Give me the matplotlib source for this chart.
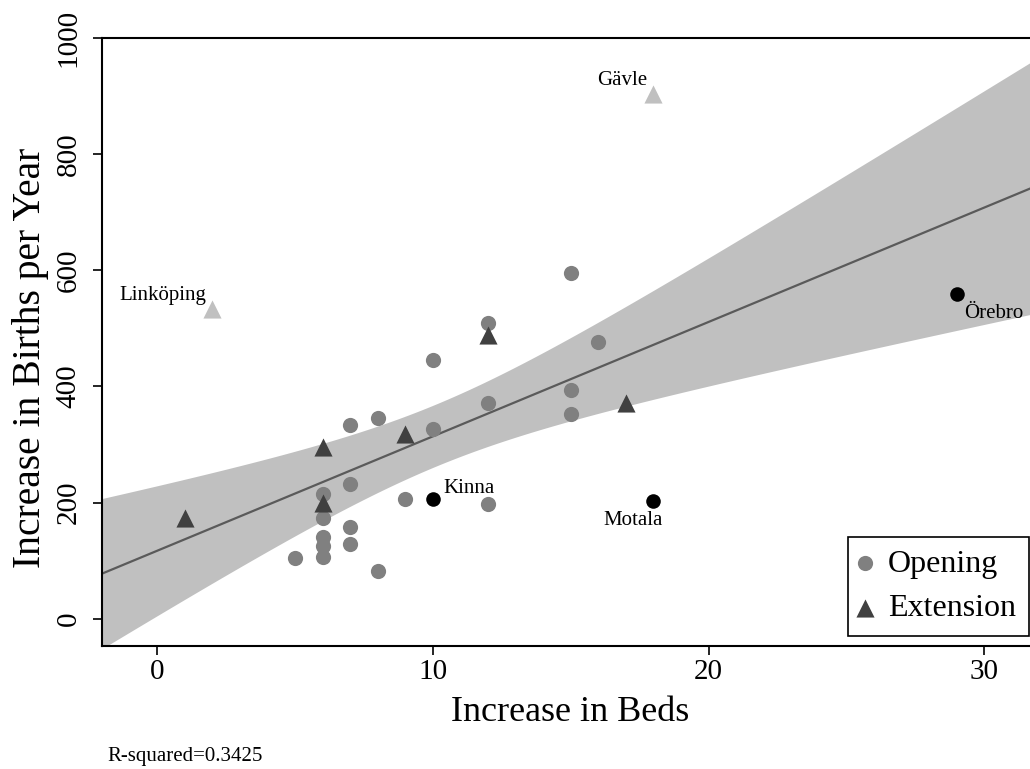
import numpy as np
import matplotlib
matplotlib.use("Agg")
import matplotlib.pyplot as plt

# ---- data ----
open_x = [12, 10, 12, 7, 8, 10, 7, 6, 9, 12, 6, 7, 6, 6, 7, 5, 6, 8, 15, 16, 15, 15]
open_y = [509, 445, 371, 333, 345, 326, 232, 214, 206, 197, 173, 158, 140, 125, 129, 104, 106, 82, 595, 476, 393, 352]
ext_x = [1, 6, 6, 9, 12, 17]
ext_y = [174, 295, 199, 318, 488, 371]
lab_names = ["Kinna", "Motala", "Örebro"]
lab_x = [10, 18, 29]
lab_y = [206, 202, 559]
far_names = ["Linköping", "Gävle"]
far_x = [2, 18]
far_y = [533, 903]
# fitted line (intercept, slope)
fit_intercept = 117.0
fit_slope = 19.7
x_ticks = [0, 10, 20, 30]
y_ticks = [0, 200, 400, 600, 800, 1000]
r2_text = "R-squared=0.3425"

plt.rcParams['font.family'] = ['Liberation Serif', 'DejaVu Serif']

fig = plt.figure(figsize=(10.30, 7.69), dpi=100)
ax = fig.add_axes([102 / 1030, 123 / 769, 937.4 / 1030, 608 / 769])
ax.set_xlim(-2, 32)
ax.set_ylim(-47, 1000)

# ---- linear fit with 95% CI ----
allx = np.array(open_x + ext_x + lab_x + far_x, float)
ally = np.array(open_y + ext_y + lab_y + far_y, float)
n = len(allx)
resid = ally - (fit_intercept + fit_slope * allx)
s = np.sqrt(np.sum(resid ** 2) / (n - 2))
xm = allx.mean()
sxx = np.sum((allx - xm) ** 2)
tval = 2.0395  # t(0.975, df=31)
xx = np.linspace(-2, 32, 300)
yy = fit_intercept + fit_slope * xx
se = s * np.sqrt(1.0 / n + (xx - xm) ** 2 / sxx)
ax.fill_between(xx, yy - tval * se, yy + tval * se, color="#c0c0c0", lw=0, zorder=1)
ax.plot(xx, yy, color="#5a5a5a", lw=1.6, zorder=2)

# ---- points ----
ax.scatter(open_x, open_y, s=120, color="#808080", marker="o", lw=0, zorder=3, label="Opening")
ax.scatter(ext_x, ext_y, s=170, color="#404040", marker="^", lw=0, zorder=3, label="Extension")
ax.scatter(lab_x, lab_y, s=110, color="black", marker="o", lw=0, zorder=4)
ax.scatter(far_x, far_y, s=170, color="#c0c0c0", marker="^", lw=0, zorder=3)

lab_off = {"Kinna": ((11, 11), "left"), "Motala": ((-20, -19), "center"),
           "Örebro": ((7, -19), "left")}
for nm, x, y in zip(lab_names, lab_x, lab_y):
    off, ha = lab_off[nm]
    ax.annotate(nm, (x, y), xytext=off, textcoords="offset pixels",
                ha=ha, va="center", fontsize=15, zorder=5)
for nm, x, y in zip(far_names, far_x, far_y):
    ax.annotate(nm, (x, y), xytext=(-6, 14), textcoords="offset pixels",
                ha="right", va="center", fontsize=15, zorder=5)

# ---- axes styling ----
ax.spines['right'].set_visible(False)
for sp in ['left', 'bottom', 'top']:
    ax.spines[sp].set_linewidth(1.5)
    ax.spines[sp].set_color("black")
ax.set_xticks(x_ticks)
ax.set_yticks(y_ticks)
ax.tick_params(axis='both', direction='out', length=6.5, width=1.2, labelsize=21)
ax.tick_params(axis='x', pad=3)
ax.tick_params(axis='y', pad=8)
for lbl in ax.get_yticklabels():
    lbl.set_rotation(90)
    lbl.set_va('center')

ax.set_xlabel("Increase in Beds", fontsize=26, va='center', ha='center')
ax.xaxis.set_label_coords(0.4993, -0.110)
ax.set_ylabel("Increase in Births per Year", fontsize=28.5, va='center', ha='center')
ax.yaxis.set_label_coords(-0.0768, 0.474)

leg = ax.legend(loc="lower right", bbox_to_anchor=(1029 / 1030, 133 / 769),
                bbox_transform=fig.transFigure, fontsize=23, frameon=True,
                fancybox=False, borderaxespad=0, handlelength=0.3,
                handletextpad=0.57, borderpad=0.4, labelspacing=0.47,
                scatterpoints=1)
leg.get_frame().set_edgecolor("black")
leg.get_frame().set_linewidth(1.2)
leg.get_frame().set_alpha(1)

fig.text(107 / 1030, 1 - 757 / 769, r2_text, fontsize=15, ha='left', va='center')

fig.savefig("out.png", dpi=100)
